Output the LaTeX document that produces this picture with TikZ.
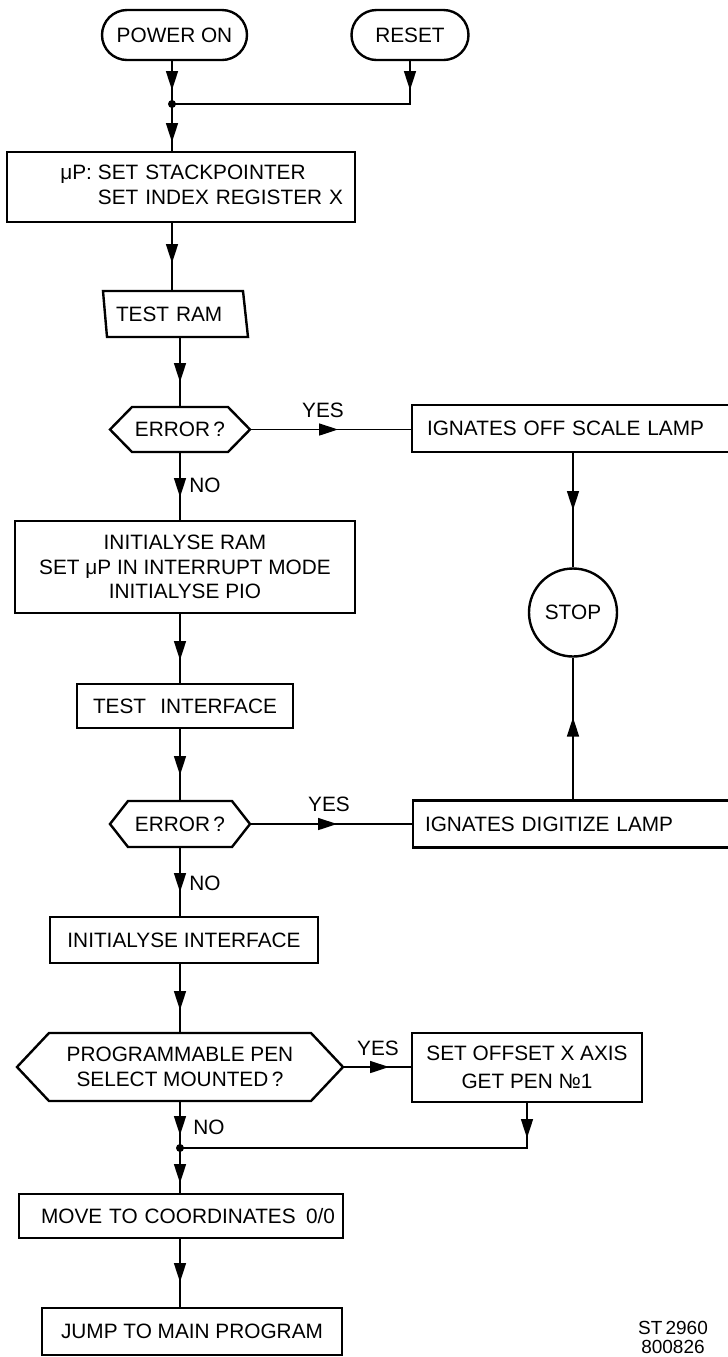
\documentclass[tikz,border=0pt]{standalone}
\usepackage{fontspec}
\setmainfont{Liberation Sans}
\usetikzlibrary{arrows.meta,decorations.markings}
\newcommand{\dfont}{\fontsize{10.4}{12.2}\selectfont}
\newcommand{\sfont}{\fontsize{9.5}{10.5}\selectfont}
\begin{document}
\begin{tikzpicture}[x=0.5pt,y=-0.5pt,
  box/.style={draw, line width=1.2pt, inner sep=0pt, outer sep=0pt, font=\dfont, align=center},
  ghost/.style={inner sep=0pt, outer sep=0pt, font=\dfont, align=center},
  term/.style={box, rounded corners=12.5pt},
  shp/.style={line width=1.2pt, line join=miter},
  flow/.style={line width=0.8pt, postaction=decorate,
    decoration={markings, mark=at position #1 with {\arrow{Triangle[length=9.5pt,width=6pt]}}}},
  lbl/.style={font=\dfont, inner sep=0pt},
  jdot/.style={circle, fill, inner sep=0pt, minimum size=4pt}
]
\useasboundingbox (0,0) rectangle (728,1357);

% nodes
\node[term, minimum width=72.5pt, minimum height=25pt] (pon) at (174.5,35) {POWER ON};
\node[term, minimum width=58.5pt, minimum height=25pt] (rst) at (410,35) {RESET};
\coordinate (j1) at (172,104);
\node[box, text width=162pt, inner xsep=6pt, minimum height=35pt, align=right] (b1) at (181,187)
  {\begin{tabular}{@{}l@{\hspace{3pt}}l@{}}μP: & SET STACKPOINTER\\ & SET INDEX REGISTER X\end{tabular}};
\node[box, draw=none, minimum height=23pt, text width=59.5pt, inner xsep=6.5pt, align=left] (ram) at (175.5,314) {TEST RAM};
\node[ghost, minimum width=70pt, minimum height=22.5pt] (h1) at (180,429.5) {ERROR\thinspace?};
\node[box, minimum height=23.5pt, text width=151pt, inner xsep=7.5pt, align=left] (sc) at (578,428.5) {IGNATES OFF SCALE LAMP};
\node[circle, draw, line width=1.2pt, minimum size=44pt, inner sep=0pt, font=\dfont] (stop) at (573,612.5) {STOP};
\node[box, minimum height=23.5pt, text width=153.5pt, inner xsep=6pt, align=left] (dg) at (578.5,824) {IGNATES DIGITIZE LAMP};
\node[box, minimum width=170pt, minimum height=46pt] (b2) at (185,567) {INITIALYSE RAM\\SET μP IN INTERRUPT MODE\\INITIALYSE PIO};
\node[box, minimum width=108pt, minimum height=22pt] (ti) at (185,706) {TEST\hspace{0.4em} INTERFACE};
\node[ghost, minimum width=70pt, minimum height=23pt] (h2) at (180,824) {ERROR\thinspace?};
\node[box, minimum width=134pt, minimum height=23pt] (ii) at (184,940) {INITIALYSE INTERFACE};
\node[ghost, minimum width=163pt, minimum height=34pt] (h3) at (180,1067) {PROGRAMMABLE PEN\\SELECT MOUNTED\thinspace?};
\node[box, minimum width=115pt, minimum height=34.5pt] (so) at (527,1067.5) {SET OFFSET X AXIS\\[2pt]GET PEN №1};
\coordinate (j2) at (180,1148);
\node[box, minimum height=22pt, text width=154pt, inner xsep=4pt, align=right] (mv) at (181,1216) {MOVE TO COORDINATES\enspace 0/0};
\node[box, minimum width=150pt, minimum height=23.5pt] (jp) at (192,1331.5) {JUMP TO MAIN PROGRAM};

% special outlines
\draw[shp] (ram.north west) -- ([xshift=-2.5pt]ram.north east) -- (ram.south east) -- ([xshift=2pt]ram.south west) -- cycle;
\draw[shp] (h1.west) -- ([xshift=11pt]h1.north west) -- ([xshift=-11pt]h1.north east) -- (h1.east)
  -- ([xshift=-11pt]h1.south east) -- ([xshift=11pt]h1.south west) -- cycle;
\draw[shp] (h2.west) -- ([xshift=9pt]h2.north west) -- ([xshift=-9pt]h2.north east) -- (h2.east)
  -- ([xshift=-9pt]h2.south east) -- ([xshift=9pt]h2.south west) -- cycle;
\draw[shp] (h3.west) -- ([xshift=16pt]h3.north west) -- ([xshift=-16pt]h3.north east) -- (h3.east)
  -- ([xshift=-16pt]h3.south east) -- ([xshift=16pt]h3.south west) -- cycle;

% connectors
\draw[flow=15pt] (pon.south -| j1) -- (j1);
\draw[flow=15pt] (rst.south) -- (rst.south |- j1) -- (j1);
\node[jdot] (j1dot) at (j1) {};
\draw[flow=19pt] (j1) -- (j1 |- b1.north);
\draw[flow=20.5pt] (b1.south -| j1) -- (ram.north -| j1);
\draw[flow=22.5pt] (ram.south -| h1.north) -- (h1.north);
\draw[flow=44pt] (h1.east) -- (h1.east -| sc.west);
\node[lbl] (yes1) at (323,410) {YES};
\draw[flow=22.5pt] (h1.south) -- (h1.south |- b2.north);
\node[lbl] (no1) at (205,485) {NO};
\draw[flow=23.5pt] (b2.south -| h1.south) -- (ti.north -| h1.south);
\draw[flow=23.5pt] (ti.south -| h2.north) -- (h2.north);
\draw[flow=43.5pt] (h2.east) -- (h2.east -| dg.west);
\node[lbl] (yes2) at (329,804) {YES};
\draw[flow=22.5pt] (h2.south) -- (h2.south |- ii.north);
\node[lbl] (no2) at (205,883) {NO};
\draw[flow=23.5pt] (ii.south -| h3.north) -- (h3.north);
\draw[flow=23pt] (h3.east) -- (h3.east -| so.west);
\node[lbl] (yes3) at (378,1048) {YES};
\draw[flow=17pt] (h3.south) -- (j2);
\node[lbl] (no3) at (209,1127) {NO};
\draw[flow=18pt] (so.south) -- (so.south |- j2) -- (j2);
\node[jdot] (j2dot) at (j2) {};
\draw[flow=17.5pt] (j2) -- (j2 |- mv.north);
\draw[flow=22pt] (mv.south -| j2) -- (jp.north -| j2);
\draw[flow=29pt] (sc.south -| stop.north) -- (stop.north);
\draw[flow=41.5pt] (dg.north -| stop.south) -- (stop.south);

% drawing number
\node[font=\sfont, inner sep=0pt] (dwg1) at (673,1328) {ST\,2960};
\node[font=\sfont, inner sep=0pt] (dwg2) at (673,1347) {800826};
\end{tikzpicture}
\end{document}
